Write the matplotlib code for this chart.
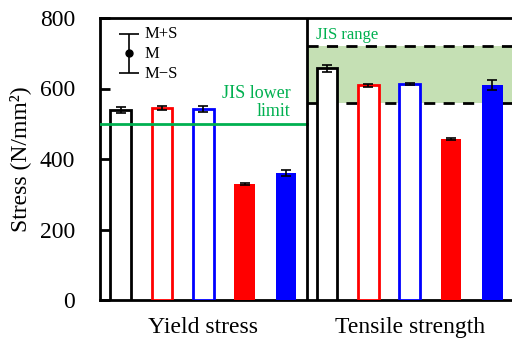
import numpy as np
import matplotlib.pyplot as plt

plt.rcParams['font.family'] = ['Liberation Serif', 'DejaVu Serif']
plt.rcParams['mathtext.fontset'] = 'stix'

# yield stress / tensile strength, mean and std (N/mm2)
groups = ['Yield stress', 'Tensile strength']
yield_mean = [539, 545, 541, 329, 360]
yield_std = [8, 5, 9, 3, 8]
tensile_mean = [658, 609, 613, 456, 611]
tensile_std = [10, 4, 3, 3, 14]
colors = ['black', 'red', 'blue', 'red', 'blue']
filled = [False, False, False, True, True]
jis_lower = 500
jis_range = [560, 720]

green = '#00b050'

fig = plt.figure(figsize=(5.12, 3.38), dpi=100)
ax = fig.add_axes([100/512, 38/338, 413/512, 282/338])

means = yield_mean + tensile_mean
stds = yield_std + tensile_std
x = np.arange(len(means))
for i, (m, s) in enumerate(zip(means, stds)):
    c = colors[i % 5]
    if filled[i % 5]:
        ax.bar(x[i], m, width=0.5, color=c, edgecolor=c, linewidth=0, zorder=3)
    else:
        ax.bar(x[i], m, width=0.5, facecolor='white', edgecolor=c, linewidth=2, zorder=3)
    ax.errorbar(x[i], m, yerr=s, fmt='none', ecolor='black', elinewidth=1.2,
                capsize=3.5, capthick=1.2, zorder=4)

# JIS limits
ax.plot([-0.5, 4.5], [jis_lower, jis_lower], color=green, lw=2, zorder=5)
ax.fill_between([4.5, 9.5], jis_range[0], jis_range[1], color='#c5e0b4', zorder=1, lw=0)
for v in jis_range:
    ax.plot([4.5, 9.5], [v, v], color='black', lw=2, ls=(0, (4, 3)), zorder=2)
ax.axvline(4.5, color='black', lw=2, zorder=6)
ax.text(4.12, 512, 'JIS lower\nlimit', color=green, fontsize=13, ha='right', va='bottom',
        linespacing=1.05)
ax.text(4.72, 730, 'JIS range', color=green, fontsize=12, ha='left', va='bottom')

# mean +/- std key
ax.errorbar(0.2, 700, yerr=55, fmt='o', color='black', ms=5, elinewidth=1.2,
            capsize=7, capthick=1.2, zorder=5)
ax.text(0.57, 755, 'M+S', fontsize=12, va='center')
ax.text(0.57, 698, 'M', fontsize=12, va='center')
ax.text(0.57, 642, 'M\u2212S', fontsize=12, va='center')

ax.set_xlim(-0.5, 9.5)
ax.set_ylim(0, 800)
ax.set_yticks([0, 200, 400, 600, 800])
ax.set_xticks([2, 7])
ax.set_xticklabels(groups)
ax.tick_params(axis='x', length=0, labelsize=17, pad=12)
ax.tick_params(axis='y', direction='in', length=7, width=2, labelsize=17, pad=18)
ax.set_ylabel('Stress (N/mm\u00b2)', fontsize=17, labelpad=6)
for sp in ['left', 'bottom', 'top']:
    ax.spines[sp].set_linewidth(2)
ax.spines['right'].set_visible(False)

fig.savefig('out.png', dpi=100)
